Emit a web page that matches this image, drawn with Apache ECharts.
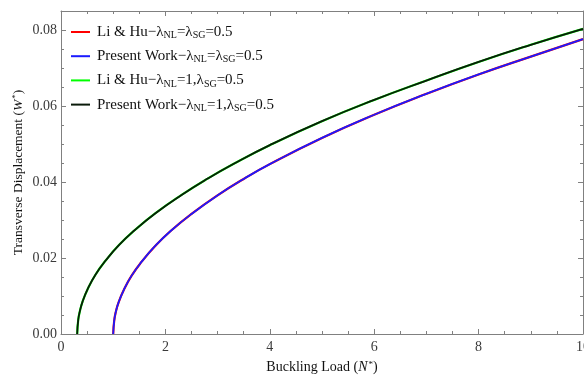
<!DOCTYPE html>
<html>
<head>
<meta charset="utf-8">
<script src="https://cdn.jsdelivr.net/npm/echarts@6/dist/echarts.min.js"></script>
<style>
html,body{margin:0;padding:0;background:#fff;}
#c{width:584px;height:376px;}
</style>
</head>
<body>
<div id="c"></div>
<script>
// Series names (legend labels, rich-text encoded)
const seriesNames = [
  'Li & Hu\u2212\u03bb{sub|NL}=\u03bb{sub|SG}=0.5',
  'Present Work\u2212\u03bb{sub|NL}=\u03bb{sub|SG}=0.5',
  'Li & Hu\u2212\u03bb{sub|NL}=1,\u03bb{sub|SG}=0.5',
  'Present Work\u2212\u03bb{sub|NL}=1,\u03bb{sub|SG}=0.5'
];
const seriesColors = ['#ff0000', '#1a1aff', '#00ff00', '#0a1a0a'];

// lambda_NL = lambda_SG = 0.5 (Li & Hu and present work coincide)
const nA = [1.0, 1.02, 1.05, 1.1, 1.2, 1.35, 1.55, 1.8, 2.1, 2.5, 3.0, 3.5, 4.0, 5.0, 6.0, 7.0, 8.0, 9.0, 10.0];
const wA = [0, 0.0036, 0.0058, 0.0082, 0.0115, 0.0153, 0.0191, 0.0231, 0.0271, 0.0316, 0.0365, 0.0408, 0.0447, 0.0516, 0.0577, 0.0632, 0.0683, 0.0730, 0.0776];

// lambda_NL = 1, lambda_SG = 0.5 (Li & Hu and present work coincide)
const nB = [0.31, 0.33, 0.36, 0.41, 0.51, 0.66, 0.86, 1.11, 1.41, 1.81, 2.31, 2.81, 3.31, 4.0, 5.0, 6.0, 7.0, 8.0, 9.0, 10.0];
const wB = [0, 0.0037, 0.0059, 0.0084, 0.0118, 0.0156, 0.0194, 0.0234, 0.0273, 0.0318, 0.0366, 0.0409, 0.0448, 0.0497, 0.0560, 0.0616, 0.0667, 0.0716, 0.0761, 0.0803];

const xTicks = [0, 2, 4, 6, 8, 10];
const yTicks = [0, 0.02, 0.04, 0.06, 0.08];

const pair = (xs, ys) => xs.map((x, i) => [x, ys[i]]);
const seriesData = [pair(nA, wA), pair(nA, wA), pair(nB, wB), pair(nB, wB)];

const FONT = '"Liberation Serif", "Times New Roman", serif';
const AXC = '#808080';
const LBL = '#3a3a3a';

const chart = echarts.init(document.getElementById('c'), null, {renderer: 'canvas'});

const baseX = {
  type: 'value', min: xTicks[0], max: xTicks[xTicks.length - 1], interval: 2,
  axisLine: {show: true, onZero: false, lineStyle: {color: AXC, width: 1}},
  axisTick: {show: true, inside: true, length: 5, lineStyle: {color: AXC}},
  minorTick: {show: true, splitNumber: 4, length: 3, lineStyle: {color: AXC}},
  splitLine: {show: false}
};
const baseY = {
  type: 'value', min: yTicks[0], max: 0.085, interval: 0.02,
  axisLine: {show: true, onZero: false, lineStyle: {color: AXC, width: 1}},
  axisTick: {show: true, inside: true, length: 5, lineStyle: {color: AXC}},
  minorTick: {show: true, splitNumber: 4, length: 3, lineStyle: {color: AXC}},
  splitLine: {show: false}
};

chart.setOption({
  animation: false,
  backgroundColor: '#fff',
  textStyle: {fontFamily: FONT},
  grid: {left: 61, right: 1, top: 11, bottom: 42, containLabel: false, outerBoundsMode: 'none'},
  legend: {
    orient: 'vertical', left: 66, top: 18.5, itemGap: 7.2, padding: 5,
    itemWidth: 19, itemHeight: 2, icon: 'rect',
    data: seriesNames,
    formatter: n => n,
    textStyle: {
      fontFamily: FONT, fontSize: 15, color: '#111', lineHeight: 17, padding: [0, 0, 0, 2],
      rich: {
        sub: {fontFamily: FONT, fontSize: 10, color: '#111', verticalAlign: 'bottom', lineHeight: 9, padding: [7, 0, 0, 0]}
      }
    }
  },
  xAxis: [
    Object.assign({}, baseX, {
      position: 'bottom',
      name: '{a|Buckling Load (}{i|N}{s|*}{a|)}',
      nameLocation: 'middle', nameGap: 26, nameMoveOverlap: false,
      nameTextStyle: {
        rich: {
          a: {fontFamily: FONT, fontSize: 14, color: '#111'},
          i: {fontFamily: FONT, fontSize: 14, color: '#111', fontStyle: 'italic'},
          s: {fontFamily: FONT, fontSize: 9, color: '#111', verticalAlign: 'top', padding: [0, 0, 6, 1]}
        }
      },
      axisLabel: {fontFamily: FONT, fontSize: 14, color: LBL, margin: 6, formatter: v => String(v)}
    }),
    Object.assign({}, baseX, {position: 'top', axisLabel: {show: false}})
  ],
  yAxis: [
    Object.assign({}, baseY, {
      position: 'left',
      name: '{a|Transverse Displacement (}{i|W}{s|*}{a|)}',
      nameLocation: 'middle', nameGap: 35, nameRotate: 90, nameMoveOverlap: false,
      nameTextStyle: {
        rich: {
          a: {fontFamily: FONT, fontSize: 13.5, color: '#111'},
          i: {fontFamily: FONT, fontSize: 13.5, color: '#111', fontStyle: 'italic'},
          s: {fontFamily: FONT, fontSize: 9, color: '#111', verticalAlign: 'top', padding: [0, 0, 6, 1]}
        }
      },
      axisLabel: {fontFamily: FONT, fontSize: 14, color: LBL, margin: 4, showMaxLabel: false,
        formatter: v => v.toFixed(2)}
    }),
    Object.assign({}, baseY, {position: 'right', axisLabel: {show: false}})
  ],
  series: seriesNames.map((name, i) => ({
    name: name,
    type: 'line',
    xAxisIndex: 0, yAxisIndex: 0,
    data: seriesData[i],
    smooth: true,
    showSymbol: false,
    symbol: 'none',
    clip: true,
    color: seriesColors[i],
    lineStyle: {color: seriesColors[i], width: i % 2 === 1 ? 1.8 : 2.2},
    z: 2 + i
  }))
});
</script>
</body>
</html>
